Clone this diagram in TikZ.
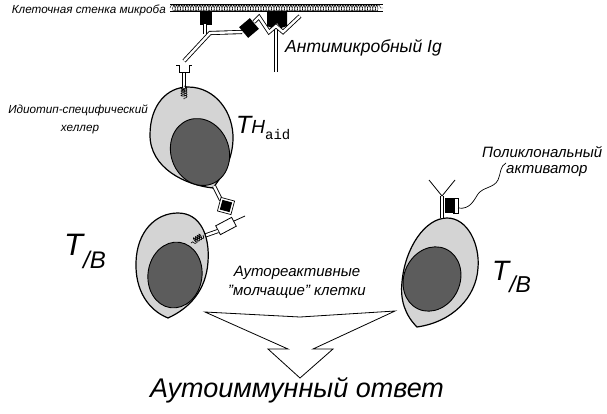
\documentclass[tikz,border=0pt]{standalone}
\usepackage{fontspec}
\setmainfont{Liberation Sans}
\setmonofont{Liberation Mono}
\usetikzlibrary{decorations.pathmorphing}
\definecolor{cellgray}{RGB}{212,212,212}
\definecolor{nucgray}{RGB}{92,92,92}
\newcommand{\fsz}[1]{\fontsize{#1}{#1}\selectfont}
\begin{document}
\begin{tikzpicture}[x=1pt,y=-1pt,
  lbl/.style={font=\itshape\fsz{11.7}, inner sep=0pt},
  mlbl/.style={font=\itshape\fsz{15}, inner sep=0pt},
  cellout/.style={draw=black, line width=1.2pt, fill=cellgray},
  nucl/.style={draw=black, line width=0.9pt, fill=nucgray},
  dbl/.style={draw=black, double=white, double distance=2.4pt, line width=0.85pt},
  coilst/.style={decorate, decoration={coil, aspect=0.4, segment length=2.2pt, amplitude=3pt}, line width=0.6pt},
  thin/.style={line width=0.8pt},
]
\useasboundingbox (0,0) rectangle (607,413);
\fill[white] (0,0) rectangle (607,413);

% microbe wall
\draw[line width=0.5pt] (170,4.5) -- (383,4.5);
\draw[line width=0.5pt] (170,11.5) -- (383,11.5);
\draw[decorate, decoration={coil, aspect=0.6, segment length=2.6pt, amplitude=3.2pt}, line width=0.4pt] (170,8) -- (383,8);
\node[lbl, anchor=east] (wall) at (166,10) {Клеточная стенка микроба};

% antigens on the wall
\fill (200,12) rectangle (212,25);
\fill (267,12) -- (287,12) -- (287,26) -- (281,28) -- (277,23) -- (272,28) -- (267,26) -- cycle;

% idiotype Ig (left)
\draw[dbl] (205,24) -- (205,34);
\draw[dbl] (184,61) -- (210,33) -- (242,32);
\fill[rotate around={40:(249,28)}] (242,21) rectangle (256,35);

% antimicrobial Ig
\draw[dbl] (276,72) -- (276,30);
\draw[dbl] (254,22) -- (259,17) -- (269,32) -- (276,26) -- (283,32) -- (300,16);
\node[font=\itshape\fsz{17.5}, inner sep=0pt, anchor=west] (amig) at (285,48) {Антимикробный Ig};

% Th aid cell
\draw[cellout] (213,188) .. controls (185,185) and (150,168) .. (150,135) .. controls (150,105) and (167,87) .. (188,87) .. controls (215,87) and (234,112) .. (233,140) .. controls (232,162) and (222,176) .. (213,188) -- cycle;
\draw[nucl, rotate around={20:(200,152)}] (200,152) ellipse (29pt and 34pt);
\draw[dbl] (184,72) -- (184,88);
\draw[coilst] (184,86) -- (184,99);
\draw[line width=0.9pt] (176,65) -- (179,65) -- (179,72) -- (189,72) -- (189,65) -- (192,65);
\node[anchor=base west, inner sep=0pt] (th) at (236,133) {\itshape\fsz{25}T\fsz{19}H\upshape\ttfamily\fsz{14}\raisebox{-6pt}{aid}};
\node[lbl, anchor=east] (idio) at (148,110) {Идиотип-специфический};
\node[lbl] (help) at (80,130) {хеллер};

% Th -- T/B contact
\draw[dbl] (214,186) -- (221,200);
\begin{scope}[rotate around={-15:(226,206)}]
\draw[fill=white, line width=0.7pt] (219,199) rectangle (233,213);
\fill (221,201) rectangle (231,211);
\end{scope}
\draw[fill=white, line width=0.8pt, rotate around={28:(226,226)}] (217,221) rectangle (235,231);
\draw[thin] (234,221) -- (245,216);
\draw[dbl] (218,231) -- (201,237);

% left T/B cell
\draw[cellout] (168,318) .. controls (148,310) and (135,290) .. (136,262) .. controls (137,232) and (155,213) .. (178,213) .. controls (200,213) and (210,235) .. (208,262) .. controls (206,290) and (190,308) .. (168,318) -- cycle;
\draw[nucl, rotate around={-8:(175,275)}] (175,275) ellipse (27pt and 33pt);
\draw[coilst] (203,235) -- (191,243);
\node[anchor=base west, inner sep=0pt] (tbl) at (64,255) {\itshape\fsz{31}T\raisebox{-13pt}{\fsz{24}/B}};

% right T/B cell
\draw[cellout] (417,327) .. controls (405,315) and (400,300) .. (402,282) .. controls (405,248) and (425,218) .. (447,218) .. controls (468,218) and (480,245) .. (478,268) .. controls (476,298) and (452,322) .. (417,327) -- cycle;
\draw[nucl, rotate around={-25:(432,279)}] (432,279) ellipse (28pt and 33pt);
\draw[dbl] (442,218) -- (442,196);
\draw[thin] (442,196) -- (429,180);
\draw[thin] (442,196) -- (455,180);
\fill (445,198) rectangle (455,213);
\draw[thin] (453,198) -- (458,198) -- (458,213) -- (453,213);
\draw[line width=0.7pt] (458,208) .. controls (470,210) and (474,200) .. (478,194) .. controls (483,187) and (494,188) .. (498,180) .. controls (501,173) and (500,166) .. (506,163);
\node[anchor=base west, inner sep=0pt] (tbr) at (492,280) {\itshape\fsz{28}T\raisebox{-12pt}{\fsz{23}/B}};
\node[mlbl, anchor=west] (poly1) at (482,152) {Поликлональный};
\node[mlbl, anchor=west] (poly2) at (506,171) {активатор};

% silent cells label
\node[mlbl] (auto1) at (297,273) {Аутореактивные};
\node[mlbl] (auto2) at (297,292) {"молчащие" клетки};

% big arrow
\draw[line width=0.8pt, fill=white] (205,312) -- (288,349) -- (268,349) -- (300,378) -- (333,349) -- (313,349) -- (395,311) -- (300,317) -- cycle;
\node[inner sep=0pt, font=\itshape\fsz{27}] (resp) at (297,390) {Аутоиммунный ответ};
\end{tikzpicture}
\end{document}
